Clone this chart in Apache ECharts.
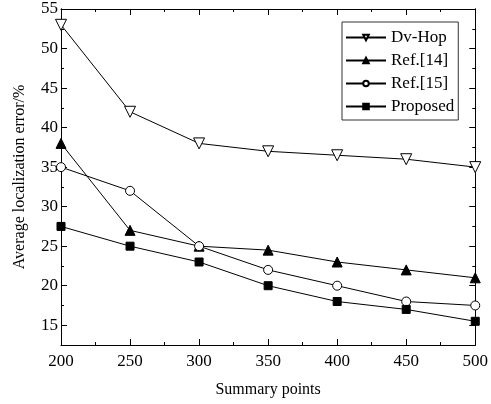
<!DOCTYPE html>
<html>
<head>
<meta charset="utf-8">
<script src="https://cdn.jsdelivr.net/npm/echarts@6/dist/echarts.min.js"></script>
<style>
  html, body { margin: 0; padding: 0; background: #fff; }
  #main { width: 491px; height: 404px; }
</style>
</head>
<body>
<div id="main"></div>
<script>
const points = [200, 250, 300, 350, 400, 450, 500];
const dvHop = [53, 42, 38, 37, 36.5, 36, 35];
const ref14 = [38, 27, 25, 24.5, 23, 22, 21];
const ref15 = [35, 32, 25, 22, 20, 18, 17.5];
const proposed = [27.5, 25, 23, 20, 18, 17, 15.5];
const yTicks = [15, 20, 25, 30, 35, 40, 45, 50, 55];

const font = '"Liberation Serif", "Times New Roman", serif';
const pair = (ys) => points.map((x, i) => [x, ys[i]]);

const chart = echarts.init(document.getElementById('main'));

const xBase = {
    type: 'value',
    min: 200,
    max: 500,
    interval: 50,
    axisLine: { lineStyle: { color: '#000', width: 1 } },
    axisTick: { inside: true, length: 6, lineStyle: { color: '#000' } },
    minorTick: { show: true, splitNumber: 2, length: 3, lineStyle: { color: '#000' } },
    splitLine: { show: false }
};
const yBase = {
    type: 'value',
    min: 12.5,
    max: 55,
    interval: 2.5,
    axisLine: { show: true, lineStyle: { color: '#000', width: 1 } },
    splitLine: { show: false }
};

function line(name, ys, symbol, size, fill, rotate) {
    return {
        name: name,
        type: 'line',
        data: pair(ys),
        symbol: symbol,
        symbolSize: size,
        symbolRotate: rotate || 0,
        showAllSymbol: true,
        lineStyle: { color: '#000', width: 1 },
        itemStyle: { color: fill, borderColor: '#000', borderWidth: 1 },
        z: 3
    };
}

chart.setOption({
    animation: false,
    textStyle: { fontFamily: font },
    grid: { left: 61, right: 13, top: 9, bottom: 59 },
    legend: {
        orient: 'vertical',
        left: 342,
        top: 22,
        padding: [7, 4, 5, 3],
        borderColor: '#333',
        borderWidth: 1,
        itemWidth: 40,
        itemHeight: 7,
        itemGap: 6,
        textStyle: { fontFamily: font, fontSize: 17, color: '#000' },
        data: ['Dv-Hop', 'Ref.[14]', 'Ref.[15]', 'Proposed']
    },
    xAxis: [
        Object.assign({}, xBase, {
            position: 'bottom',
            name: 'Summary points',
            nameLocation: 'middle',
            nameGap: 37,
            nameTextStyle: { fontFamily: font, fontSize: 16, color: '#000' },
            axisLabel: { margin: 8, fontFamily: font, fontSize: 17, color: '#000' }
        }),
        Object.assign({}, xBase, {
            position: 'top',
            axisLabel: { show: false }
        })
    ],
    yAxis: [
        Object.assign({}, yBase, {
            position: 'left',
            name: 'Average localization error/%',
            nameLocation: 'middle',
            nameGap: 33,
            nameTextStyle: { fontFamily: font, fontSize: 16, color: '#000' },
            axisTick: { inside: true, length: 6, customValues: yTicks, lineStyle: { color: '#000' } },
            axisLabel: { margin: 3, customValues: yTicks, fontFamily: font, fontSize: 17, color: '#000' }
        }),
        Object.assign({}, yBase, {
            position: 'right',
            axisTick: { inside: true, length: 6, customValues: yTicks, lineStyle: { color: '#000' } },
            axisLabel: { show: false }
        }),
        Object.assign({}, yBase, {
            position: 'left',
            axisTick: { inside: true, length: 3, lineStyle: { color: '#000' } },
            axisLabel: { show: false }
        }),
        Object.assign({}, yBase, {
            position: 'right',
            axisTick: { inside: true, length: 3, lineStyle: { color: '#000' } },
            axisLabel: { show: false }
        })
    ],
    series: [
        line('Dv-Hop', dvHop, 'triangle', 11, '#fff', 180),
        line('Ref.[14]', ref14, 'triangle', 10, '#000'),
        line('Ref.[15]', ref15, 'circle', 9, '#fff'),
        line('Proposed', proposed, 'rect', 8, '#000')
    ]
});
</script>
</body>
</html>
